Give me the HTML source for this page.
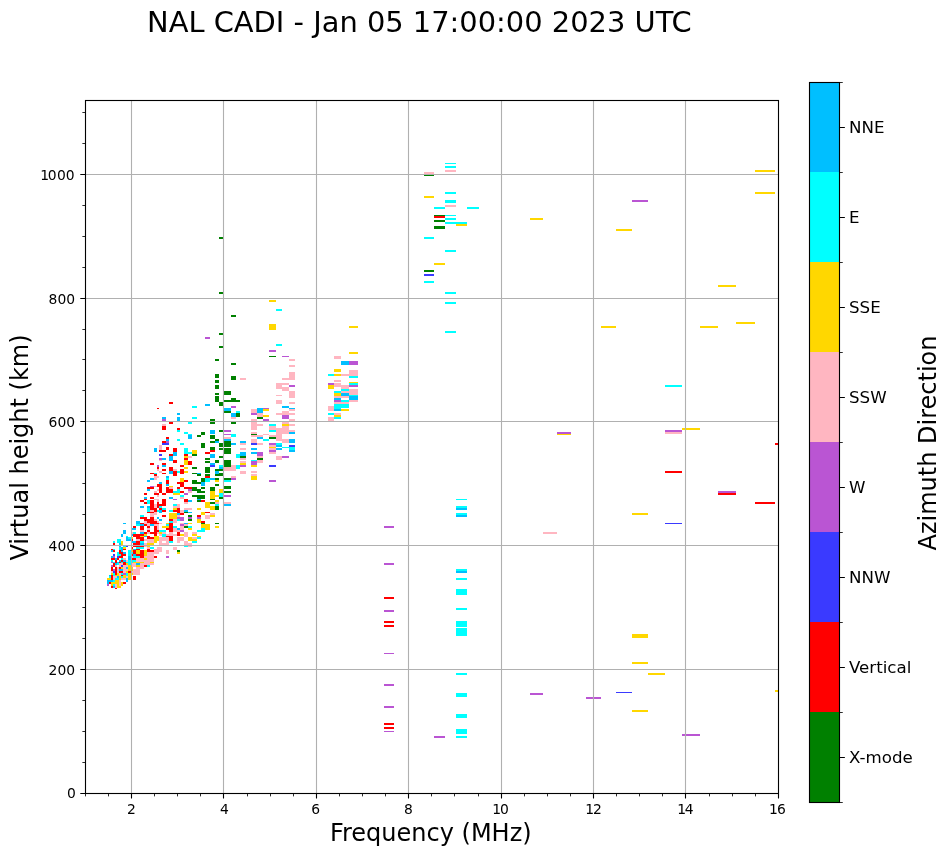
<!DOCTYPE html>
<html lang="en"><head><meta charset="utf-8"><title>NAL CADI - Jan 05 17:00:00 2023 UTC</title>
<style>html,body{margin:0;padding:0;background:#fff}body{width:951px;height:856px;overflow:hidden}svg{display:block}text{font-family:'DejaVu Sans','Liberation Sans',sans-serif;fill:#000}</style></head><body>
<svg width="951" height="856" viewBox="0 0 951 856">
<rect x="0" y="0" width="951" height="856" fill="#fff"/>
<g shape-rendering="crispEdges">
<path fill="#00ffff" d="M445 163h11v1h-11zM445 166h11v2h-11zM445 192h11v2h-11zM445 200h11v3h-11zM434 207h11v2h-11zM467 207h12v2h-12zM445 215h11v1h-11zM445 218h11v2h-11zM445 222h22v2h-22zM424 237h10v2h-10zM445 250h11v2h-11zM424 281h10v2h-10zM445 292h11v2h-11zM445 302h11v2h-11zM445 331h11v2h-11zM456 499h11v1h-11zM456 506h11v2h-11zM456 513h11v2h-11zM456 569h11v2h-11zM456 578h11v2h-11zM456 589h11v6h-11zM456 608h11v2h-11zM456 621h11v6h-11zM456 628h11v8h-11zM456 673h11v2h-11zM456 693h11v4h-11zM456 714h11v4h-11zM456 729h11v5h-11zM456 736h11v2h-11zM665 385h17v2h-17zM276 309h6v2h-6zM276 344h6v2h-6zM328 374h6v2h-6zM349 376h9v2h-9zM349 383h9v2h-9zM341 389h8v2h-8zM334 391h7v2h-7zM349 395h9v1h-9zM341 400h8v2h-8zM334 404h7v2h-7zM341 404h8v2h-8zM192 406h5v2h-5zM334 406h7v2h-7zM341 406h8v2h-8zM334 408h7v1h-7zM236 411h4v2h-4zM328 413h6v2h-6zM192 417h5v2h-5zM334 417h7v2h-7zM188 422h4v2h-4zM269 424h7v2h-7zM177 430h3v2h-3zM269 430h7v2h-7zM184 432h4v2h-4zM188 434h4v1h-4zM231 434h5v1h-5zM231 435h5v2h-5zM177 439h3v2h-3zM263 439h6v2h-6zM180 443h4v2h-4zM276 443h6v2h-6zM282 447h7v1h-7zM289 447h6v1h-6zM184 448h4v2h-4zM289 448h6v2h-6zM184 450h4v2h-4zM184 452h4v2h-4zM188 452h4v2h-4zM236 454h4v2h-4zM236 456h4v2h-4zM251 460h6v1h-6zM219 465h5v2h-5zM236 465h4v2h-4zM236 467h4v2h-4zM177 471h3v2h-3zM154 473h3v1h-3zM166 478h3v2h-3zM205 478h5v2h-5zM205 480h5v2h-5zM224 480h7v2h-7zM177 489h3v2h-3zM173 491h4v2h-4zM177 491h3v2h-3zM219 493h5v2h-5zM180 495h4v2h-4zM219 495h5v2h-5zM147 500h3v2h-3zM147 502h3v2h-3zM173 504h4v2h-4zM215 504h4v2h-4zM159 506h3v2h-3zM147 508h3v2h-3zM162 508h4v2h-4zM147 510h3v2h-3zM157 510h2v2h-2zM169 510h4v2h-4zM140 515h4v2h-4zM177 519h3v2h-3zM169 521h4v2h-4zM136 524h2v2h-2zM138 524h2v2h-2zM166 524h3v2h-3zM173 526h4v2h-4zM188 526h4v2h-4zM201 528h4v2h-4zM159 530h3v2h-3zM162 530h4v2h-4zM197 530h4v2h-4zM201 530h4v2h-4zM133 532h3v2h-3zM162 534h4v2h-4zM126 536h2v1h-2zM162 536h4v1h-4zM128 537h3v2h-3zM197 537h4v2h-4zM117 539h2v2h-2zM119 539h2v2h-2zM113 541h2v2h-2zM117 541h2v2h-2zM119 541h2v2h-2zM140 541h4v2h-4zM169 541h4v2h-4zM192 541h5v2h-5zM123 545h3v2h-3zM184 545h4v2h-4zM119 547h2v2h-2zM136 547h2v2h-2zM138 547h2v2h-2zM140 547h4v2h-4zM150 547h4v2h-4zM113 549h2v1h-2zM119 549h2v1h-2zM128 550h3v2h-3zM117 552h2v2h-2zM128 552h3v2h-3zM131 552h2v2h-2zM117 554h2v2h-2zM119 554h2v2h-2zM128 554h3v2h-3zM133 556h3v2h-3zM136 556h2v2h-2zM138 556h2v2h-2zM121 558h2v2h-2zM111 560h2v2h-2zM128 560h3v2h-3zM131 560h2v2h-2zM133 560h3v2h-3zM113 562h2v1h-2zM121 562h2v1h-2zM126 562h2v1h-2zM128 562h3v1h-3zM131 562h2v1h-2zM117 563h2v2h-2zM128 563h3v2h-3zM147 565h3v2h-3zM113 573h2v2h-2zM121 573h2v2h-2zM126 573h2v2h-2zM113 575h2v1h-2zM126 575h2v1h-2zM109 576h2v2h-2zM121 576h2v2h-2zM115 578h2v2h-2zM117 578h2v2h-2zM113 580h2v2h-2zM113 584h2v2h-2z"/>
<path fill="#ffb6c1" d="M445 170h11v2h-11zM424 172h10v2h-10zM445 205h11v2h-11zM665 432h17v2h-17zM543 532h14v2h-14zM334 356h7v1h-7zM334 357h7v2h-7zM289 359h6v2h-6zM289 365h6v2h-6zM349 370h9v2h-9zM289 372h6v2h-6zM349 372h9v2h-9zM289 374h6v2h-6zM341 374h8v2h-8zM349 374h9v2h-9zM289 376h6v2h-6zM240 378h6v2h-6zM282 378h7v2h-7zM289 378h6v2h-6zM334 380h7v2h-7zM276 383h6v2h-6zM282 383h7v2h-7zM334 383h7v2h-7zM276 385h6v2h-6zM334 385h7v2h-7zM341 385h8v2h-8zM276 387h6v2h-6zM282 387h7v2h-7zM341 387h8v2h-8zM282 389h7v2h-7zM349 389h9v2h-9zM289 391h6v2h-6zM341 391h8v2h-8zM349 391h9v2h-9zM289 393h6v2h-6zM349 393h9v2h-9zM276 395h6v1h-6zM289 395h6v1h-6zM289 396h6v2h-6zM334 396h7v2h-7zM341 396h8v2h-8zM276 400h6v2h-6zM349 400h9v2h-9zM276 402h6v2h-6zM289 402h6v2h-6zM334 402h7v2h-7zM341 402h8v2h-8zM328 406h6v2h-6zM328 408h6v1h-6zM251 409h6v2h-6zM289 409h6v2h-6zM328 409h6v2h-6zM251 411h6v2h-6zM282 411h7v2h-7zM257 413h6v2h-6zM276 413h6v2h-6zM282 413h7v2h-7zM289 413h6v2h-6zM334 413h7v2h-7zM257 415h6v2h-6zM231 417h5v2h-5zM328 417h6v2h-6zM251 419h6v2h-6zM289 419h6v2h-6zM328 419h6v2h-6zM251 422h6v2h-6zM282 422h7v2h-7zM162 424h4v2h-4zM251 424h6v2h-6zM257 424h6v2h-6zM289 424h6v2h-6zM251 426h6v2h-6zM269 426h7v2h-7zM282 426h7v2h-7zM251 428h6v2h-6zM269 428h7v2h-7zM276 428h6v2h-6zM282 428h7v2h-7zM276 430h6v2h-6zM282 430h7v2h-7zM289 430h6v2h-6zM251 432h6v2h-6zM276 432h6v2h-6zM282 432h7v2h-7zM263 434h6v1h-6zM276 434h6v1h-6zM251 435h6v2h-6zM257 435h6v2h-6zM269 435h7v2h-7zM276 435h6v2h-6zM224 437h7v2h-7zM276 437h6v2h-6zM251 439h6v2h-6zM276 439h6v2h-6zM282 439h7v2h-7zM251 441h6v2h-6zM282 441h7v2h-7zM240 443h6v2h-6zM257 443h6v2h-6zM159 445h3v2h-3zM269 445h7v2h-7zM159 447h3v1h-3zM159 448h3v2h-3zM240 448h6v2h-6zM269 448h7v2h-7zM269 452h7v2h-7zM188 456h4v2h-4zM257 456h6v2h-6zM276 456h6v2h-6zM240 458h6v2h-6zM276 458h6v2h-6zM159 460h3v1h-3zM257 460h6v1h-6zM240 461h6v2h-6zM257 461h6v2h-6zM231 465h5v2h-5zM224 467h7v2h-7zM231 467h5v2h-5zM157 469h2v2h-2zM173 469h4v2h-4zM224 469h7v2h-7zM231 469h5v2h-5zM159 471h3v2h-3zM240 471h6v2h-6zM251 471h6v2h-6zM240 473h6v1h-6zM251 474h6v2h-6zM154 476h3v2h-3zM157 476h2v2h-2zM231 476h5v2h-5zM154 478h3v2h-3zM154 486h3v1h-3zM169 487h4v2h-4zM157 489h2v2h-2zM154 491h3v2h-3zM188 491h4v2h-4zM157 495h2v2h-2zM180 497h4v2h-4zM154 499h3v1h-3zM157 499h2v1h-2zM157 500h2v2h-2zM184 502h4v2h-4zM215 502h4v2h-4zM224 502h7v2h-7zM154 504h3v2h-3zM177 504h3v2h-3zM154 506h3v2h-3zM173 506h4v2h-4zM177 506h3v2h-3zM184 508h4v2h-4zM188 508h4v2h-4zM150 510h4v2h-4zM180 510h4v2h-4zM154 512h3v1h-3zM180 512h4v1h-4zM150 513h4v2h-4zM154 513h3v2h-3zM210 513h5v2h-5zM150 515h4v2h-4zM177 515h3v2h-3zM205 515h5v2h-5zM205 517h5v2h-5zM154 519h3v2h-3zM173 519h4v2h-4zM144 521h3v2h-3zM157 521h2v2h-2zM173 521h4v2h-4zM144 523h3v1h-3zM147 523h3v1h-3zM159 523h3v1h-3zM180 523h4v1h-4zM147 524h3v2h-3zM154 524h3v2h-3zM157 524h2v2h-2zM184 524h4v2h-4zM157 526h2v2h-2zM180 526h4v2h-4zM147 528h3v2h-3zM157 528h2v2h-2zM173 528h4v2h-4zM180 528h4v2h-4zM140 530h4v2h-4zM173 530h4v2h-4zM177 530h3v2h-3zM131 532h2v2h-2zM147 532h3v2h-3zM157 532h2v2h-2zM162 532h4v2h-4zM169 532h4v2h-4zM184 532h4v2h-4zM192 532h5v2h-5zM159 534h3v2h-3zM166 534h3v2h-3zM169 534h4v2h-4zM173 534h4v2h-4zM184 534h4v2h-4zM184 536h4v1h-4zM159 537h3v2h-3zM162 537h4v2h-4zM166 537h3v2h-3zM177 537h3v2h-3zM180 537h4v2h-4zM192 537h5v2h-5zM136 539h2v2h-2zM138 539h2v2h-2zM144 539h3v2h-3zM147 539h3v2h-3zM150 539h4v2h-4zM159 539h3v2h-3zM162 539h4v2h-4zM166 539h3v2h-3zM177 539h3v2h-3zM180 539h4v2h-4zM147 541h3v2h-3zM150 541h4v2h-4zM159 541h3v2h-3zM166 541h3v2h-3zM177 541h3v2h-3zM184 541h4v2h-4zM144 543h3v2h-3zM159 543h3v2h-3zM162 543h4v2h-4zM166 543h3v2h-3zM184 543h4v2h-4zM188 543h4v2h-4zM144 545h3v2h-3zM188 545h4v2h-4zM147 547h3v2h-3zM157 547h2v2h-2zM159 547h3v2h-3zM173 547h4v2h-4zM154 549h3v1h-3zM157 549h2v1h-2zM159 549h3v1h-3zM173 549h4v1h-4zM154 550h3v2h-3zM157 550h2v2h-2zM159 550h3v2h-3zM166 550h3v2h-3zM147 552h3v2h-3zM150 552h4v2h-4zM154 552h3v2h-3zM157 552h2v2h-2zM166 552h3v2h-3zM147 554h3v2h-3zM150 554h4v2h-4zM131 556h2v2h-2zM144 556h3v2h-3zM147 556h3v2h-3zM150 556h4v2h-4zM123 558h3v2h-3zM136 558h2v2h-2zM138 558h2v2h-2zM140 558h4v2h-4zM147 558h3v2h-3zM150 558h4v2h-4zM126 560h2v2h-2zM136 560h2v2h-2zM138 560h2v2h-2zM140 560h4v2h-4zM144 560h3v2h-3zM147 560h3v2h-3zM150 560h4v2h-4zM144 562h3v1h-3zM147 562h3v1h-3zM119 563h2v2h-2zM121 563h2v2h-2zM131 563h2v2h-2zM133 563h3v2h-3zM140 563h4v2h-4zM144 563h3v2h-3zM147 563h3v2h-3zM150 563h4v2h-4zM115 565h2v2h-2zM119 565h2v2h-2zM123 565h3v2h-3zM126 565h2v2h-2zM131 565h2v2h-2zM133 565h3v2h-3zM140 565h4v2h-4zM117 567h2v2h-2zM123 567h3v2h-3zM136 567h2v2h-2zM138 567h2v2h-2zM140 567h4v2h-4zM117 569h2v2h-2zM123 569h3v2h-3zM126 569h2v2h-2zM133 569h3v2h-3zM136 569h2v2h-2zM138 569h2v2h-2zM111 571h2v2h-2zM117 571h2v2h-2zM123 571h3v2h-3zM131 571h2v2h-2zM133 571h3v2h-3zM136 571h2v2h-2zM138 571h2v2h-2zM119 573h2v2h-2zM133 573h3v2h-3zM136 573h2v2h-2zM138 573h2v2h-2zM119 575h2v1h-2zM113 576h2v2h-2zM115 576h2v2h-2zM126 576h2v2h-2zM113 578h2v2h-2zM121 578h2v2h-2zM123 578h3v2h-3zM119 580h2v2h-2zM119 582h2v2h-2zM115 584h2v2h-2zM119 584h2v2h-2zM115 586h2v2h-2z"/>
<path fill="#008000" d="M424 174h10v2h-10zM434 215h11v1h-11zM434 220h11v2h-11zM434 226h11v3h-11zM424 270h10v2h-10zM219 237h5v2h-5zM219 292h5v2h-5zM231 315h5v2h-5zM219 333h5v2h-5zM219 346h5v2h-5zM269 356h7v1h-7zM215 359h4v2h-4zM231 363h5v2h-5zM215 374h4v2h-4zM215 376h4v2h-4zM231 376h5v2h-5zM231 378h5v2h-5zM215 380h4v2h-4zM215 382h4v1h-4zM215 385h4v2h-4zM215 387h4v2h-4zM224 391h7v2h-7zM215 393h4v2h-4zM224 393h7v2h-7zM215 396h4v2h-4zM215 398h4v2h-4zM231 398h5v2h-5zM215 400h4v2h-4zM224 400h7v2h-7zM231 400h5v2h-5zM236 400h4v2h-4zM219 402h5v2h-5zM219 404h5v2h-5zM224 411h7v2h-7zM236 413h4v2h-4zM236 415h4v2h-4zM257 417h6v2h-6zM210 419h5v2h-5zM210 422h5v2h-5zM231 422h5v2h-5zM219 430h5v2h-5zM201 432h4v2h-4zM201 434h4v1h-4zM251 434h6v1h-6zM197 435h4v2h-4zM210 435h5v2h-5zM210 437h5v2h-5zM269 437h7v2h-7zM215 439h4v2h-4zM210 441h5v2h-5zM224 441h7v2h-7zM201 443h4v2h-4zM219 443h5v2h-5zM224 443h7v2h-7zM201 445h4v2h-4zM219 445h5v2h-5zM224 445h7v2h-7zM201 447h4v1h-4zM210 447h5v1h-5zM210 448h5v2h-5zM219 448h5v2h-5zM224 448h7v2h-7zM224 450h7v2h-7zM224 452h7v2h-7zM192 454h5v2h-5zM219 456h5v2h-5zM240 456h6v2h-6zM205 458h5v2h-5zM257 458h6v2h-6zM215 460h4v1h-4zM224 460h7v1h-7zM205 461h5v2h-5zM215 461h4v2h-4zM224 461h7v2h-7zM224 463h7v2h-7zM224 465h7v2h-7zM192 467h5v2h-5zM205 467h5v2h-5zM205 469h5v2h-5zM215 469h4v2h-4zM219 469h5v2h-5zM205 471h5v2h-5zM192 473h5v1h-5zM219 473h5v1h-5zM197 474h4v2h-4zM205 474h5v2h-5zM215 474h4v2h-4zM219 474h5v2h-5zM201 478h4v2h-4zM215 478h4v2h-4zM224 478h7v2h-7zM192 480h5v2h-5zM201 480h4v2h-4zM192 482h5v2h-5zM197 482h4v2h-4zM215 484h4v2h-4zM224 486h7v1h-7zM192 487h5v2h-5zM201 487h4v2h-4zM210 487h5v2h-5zM224 487h7v2h-7zM192 489h5v2h-5zM197 489h4v2h-4zM210 489h5v2h-5zM197 491h4v2h-4zM201 491h4v2h-4zM224 491h7v2h-7zM192 495h5v2h-5zM197 495h4v2h-4zM201 495h4v2h-4zM197 497h4v2h-4zM201 497h4v2h-4zM219 497h5v2h-5zM210 499h5v1h-5zM197 500h4v2h-4zM210 502h5v2h-5zM215 506h4v2h-4zM215 508h4v2h-4zM184 512h4v1h-4zM188 515h4v2h-4zM188 519h4v2h-4zM201 523h4v1h-4zM215 523h4v1h-4zM184 526h4v2h-4zM177 550h3v2h-3z"/>
<path fill="#ffd700" d="M424 196h10v2h-10zM456 224h11v2h-11zM434 263h11v2h-11zM530 218h13v2h-13zM616 229h16v2h-16zM755 170h20v2h-20zM755 192h20v2h-20zM601 326h15v2h-15zM700 326h18v2h-18zM718 285h18v2h-18zM736 322h19v2h-19zM557 434h14v1h-14zM632 513h16v2h-16zM682 428h18v2h-18zM632 634h16v4h-16zM632 662h16v2h-16zM648 673h17v2h-17zM632 710h16v2h-16zM775 690h3v2h-3zM269 300h7v2h-7zM269 324h7v2h-7zM269 326h7v2h-7zM349 326h9v2h-9zM269 328h7v2h-7zM349 352h9v2h-9zM334 369h7v1h-7zM334 370h7v2h-7zM334 374h7v2h-7zM349 382h9v1h-9zM328 385h6v2h-6zM328 387h6v2h-6zM334 393h7v2h-7zM334 395h7v1h-7zM263 409h6v2h-6zM341 409h8v2h-8zM263 415h6v2h-6zM334 415h7v2h-7zM282 424h7v2h-7zM269 447h7v1h-7zM192 450h5v2h-5zM192 452h5v2h-5zM184 456h4v2h-4zM184 460h4v1h-4zM184 461h4v2h-4zM184 463h4v2h-4zM240 463h6v2h-6zM251 465h6v2h-6zM184 467h4v2h-4zM184 471h4v2h-4zM251 476h6v2h-6zM180 478h4v2h-4zM251 478h6v2h-6zM180 480h4v2h-4zM215 480h4v2h-4zM169 486h4v1h-4zM219 489h5v2h-5zM210 491h5v2h-5zM219 491h5v2h-5zM173 493h4v2h-4zM177 493h3v2h-3zM210 493h5v2h-5zM210 495h5v2h-5zM215 495h4v2h-4zM210 497h5v2h-5zM215 500h4v2h-4zM205 502h5v2h-5zM205 504h5v2h-5zM205 506h5v2h-5zM210 506h5v2h-5zM173 508h4v2h-4zM197 508h4v2h-4zM210 508h5v2h-5zM201 512h4v1h-4zM169 513h4v2h-4zM173 513h4v2h-4zM201 513h4v2h-4zM169 515h4v2h-4zM173 515h4v2h-4zM210 515h5v2h-5zM169 517h4v2h-4zM173 517h4v2h-4zM197 519h4v2h-4zM197 521h4v2h-4zM166 523h3v1h-3zM188 523h4v1h-4zM201 524h4v2h-4zM205 524h5v2h-5zM162 526h4v2h-4zM166 526h3v2h-3zM201 526h4v2h-4zM205 526h5v2h-5zM215 526h4v2h-4zM188 528h4v2h-4zM205 528h5v2h-5zM159 532h3v2h-3zM144 534h3v2h-3zM180 534h4v2h-4zM192 534h5v2h-5zM140 536h4v1h-4zM154 536h3v1h-3zM157 536h2v1h-2zM197 536h4v1h-4zM131 537h2v2h-2zM154 537h3v2h-3zM157 537h2v2h-2zM188 537h4v2h-4zM154 539h3v2h-3zM157 539h2v2h-2zM188 539h4v2h-4zM192 539h5v2h-5zM121 541h2v2h-2zM154 541h3v2h-3zM121 543h2v2h-2zM147 543h3v2h-3zM150 543h4v2h-4zM147 545h3v2h-3zM123 547h3v2h-3zM131 549h2v1h-2zM131 550h2v2h-2zM136 550h2v2h-2zM138 550h2v2h-2zM144 550h3v2h-3zM136 552h2v2h-2zM138 552h2v2h-2zM144 552h3v2h-3zM177 552h3v2h-3zM144 554h3v2h-3zM144 558h3v2h-3zM133 562h3v1h-3zM136 562h2v1h-2zM138 562h2v1h-2zM140 562h4v1h-4zM150 562h4v1h-4zM126 563h2v2h-2zM128 565h3v2h-3zM136 565h2v2h-2zM138 565h2v2h-2zM121 567h2v2h-2zM128 567h3v2h-3zM131 567h2v2h-2zM128 569h3v2h-3zM131 569h2v2h-2zM126 571h2v2h-2zM111 573h2v2h-2zM117 573h2v2h-2zM128 573h3v2h-3zM131 573h2v2h-2zM115 575h2v1h-2zM117 575h2v1h-2zM123 575h3v1h-3zM128 575h3v1h-3zM119 576h2v2h-2zM123 576h3v2h-3zM128 576h3v2h-3zM107 578h2v2h-2zM109 578h2v2h-2zM119 578h2v2h-2zM128 578h3v2h-3zM115 580h2v2h-2zM117 580h2v2h-2zM111 582h2v2h-2zM113 582h2v2h-2zM115 582h2v2h-2zM117 582h2v2h-2zM121 582h2v2h-2zM111 584h2v2h-2zM117 584h2v2h-2zM121 584h2v2h-2zM117 586h2v2h-2zM119 586h2v2h-2z"/>
<path fill="#ff0000" d="M434 216h11v2h-11zM384 597h10v2h-10zM384 621h10v2h-10zM384 625h10v2h-10zM384 723h10v2h-10zM384 727h10v2h-10zM775 443h3v2h-3zM665 471h17v2h-17zM718 493h18v2h-18zM755 502h20v2h-20zM169 402h4v2h-4zM157 408h2v1h-2zM169 422h4v2h-4zM162 426h4v2h-4zM162 428h4v2h-4zM177 428h3v2h-3zM166 437h3v2h-3zM162 441h4v2h-4zM166 447h3v1h-3zM166 448h3v2h-3zM173 448h4v2h-4zM159 450h3v2h-3zM162 450h4v2h-4zM173 450h4v2h-4zM210 450h5v2h-5zM205 452h5v2h-5zM169 454h4v2h-4zM184 454h4v2h-4zM184 458h4v2h-4zM173 460h4v1h-4zM173 461h4v2h-4zM188 461h4v2h-4zM150 463h4v2h-4zM162 463h4v2h-4zM188 463h4v2h-4zM180 465h4v2h-4zM157 467h2v2h-2zM169 467h4v2h-4zM162 469h4v2h-4zM169 469h4v2h-4zM180 469h4v2h-4zM173 471h4v2h-4zM180 471h4v2h-4zM150 473h4v1h-4zM162 473h4v1h-4zM173 473h4v1h-4zM180 473h4v1h-4zM154 474h3v2h-3zM173 474h4v2h-4zM205 476h5v2h-5zM166 480h3v2h-3zM184 480h4v2h-4zM166 482h3v2h-3zM177 482h3v2h-3zM180 482h4v2h-4zM157 484h2v2h-2zM159 484h3v2h-3zM180 484h4v2h-4zM157 486h2v1h-2zM159 486h3v1h-3zM180 486h4v1h-4zM147 487h3v2h-3zM150 487h4v2h-4zM159 487h3v2h-3zM166 487h3v2h-3zM177 487h3v2h-3zM184 487h4v2h-4zM188 487h4v2h-4zM159 489h3v2h-3zM166 489h3v2h-3zM169 489h4v2h-4zM159 491h3v2h-3zM166 491h3v2h-3zM169 491h4v2h-4zM180 491h4v2h-4zM144 493h3v2h-3zM154 493h3v2h-3zM157 493h2v2h-2zM162 493h4v2h-4zM150 497h4v2h-4zM144 499h3v1h-3zM162 499h4v1h-4zM184 499h4v1h-4zM140 500h4v2h-4zM150 500h4v2h-4zM162 500h4v2h-4zM184 500h4v2h-4zM201 500h4v2h-4zM144 502h3v2h-3zM150 502h4v2h-4zM157 502h2v2h-2zM162 502h4v2h-4zM150 504h4v2h-4zM157 504h2v2h-2zM159 504h3v2h-3zM162 504h4v2h-4zM150 506h4v2h-4zM157 506h2v2h-2zM150 508h4v2h-4zM154 508h3v2h-3zM159 508h3v2h-3zM177 508h3v2h-3zM154 510h3v2h-3zM162 510h4v2h-4zM173 510h4v2h-4zM177 510h3v2h-3zM147 512h3v1h-3zM150 512h4v1h-4zM177 512h3v1h-3zM205 512h5v1h-5zM180 513h4v2h-4zM162 515h4v2h-4zM197 515h4v2h-4zM140 517h4v2h-4zM144 517h3v2h-3zM150 517h4v2h-4zM144 519h3v2h-3zM147 519h3v2h-3zM150 519h4v2h-4zM169 519h4v2h-4zM147 521h3v2h-3zM150 521h4v2h-4zM154 521h3v2h-3zM201 521h4v2h-4zM140 523h4v1h-4zM150 523h4v1h-4zM154 523h3v1h-3zM157 523h2v1h-2zM169 523h4v1h-4zM144 524h3v2h-3zM169 524h4v2h-4zM133 526h3v2h-3zM140 526h4v2h-4zM147 526h3v2h-3zM154 526h3v2h-3zM169 526h4v2h-4zM140 528h4v2h-4zM154 528h3v2h-3zM166 528h3v2h-3zM169 528h4v2h-4zM147 530h3v2h-3zM154 530h3v2h-3zM157 530h2v2h-2zM169 530h4v2h-4zM144 532h3v2h-3zM150 532h4v2h-4zM154 532h3v2h-3zM177 532h3v2h-3zM133 534h3v2h-3zM136 534h2v2h-2zM138 534h2v2h-2zM140 534h4v2h-4zM154 534h3v2h-3zM177 534h3v2h-3zM133 536h3v1h-3zM136 536h2v1h-2zM138 536h2v1h-2zM147 536h3v1h-3zM166 536h3v1h-3zM169 536h4v1h-4zM136 537h2v2h-2zM138 537h2v2h-2zM140 537h4v2h-4zM147 537h3v2h-3zM150 537h4v2h-4zM169 537h4v2h-4zM131 539h2v2h-2zM140 539h4v2h-4zM169 539h4v2h-4zM136 541h2v2h-2zM138 541h2v2h-2zM113 543h2v2h-2zM133 543h3v2h-3zM136 543h2v2h-2zM138 543h2v2h-2zM133 545h3v2h-3zM136 545h2v2h-2zM138 545h2v2h-2zM140 545h4v2h-4zM131 547h2v2h-2zM111 549h2v1h-2zM123 549h3v1h-3zM136 549h2v1h-2zM138 549h2v1h-2zM147 549h3v1h-3zM113 550h2v2h-2zM119 550h2v2h-2zM133 550h3v2h-3zM140 550h4v2h-4zM147 550h3v2h-3zM150 550h4v2h-4zM119 552h2v2h-2zM121 552h2v2h-2zM133 552h3v2h-3zM140 552h4v2h-4zM121 554h2v2h-2zM123 554h3v2h-3zM131 554h2v2h-2zM136 554h2v2h-2zM138 554h2v2h-2zM140 554h4v2h-4zM119 556h2v2h-2zM121 556h2v2h-2zM140 556h4v2h-4zM154 556h3v2h-3zM111 558h2v2h-2zM113 558h2v2h-2zM117 558h2v2h-2zM131 558h2v2h-2zM133 558h3v2h-3zM115 560h2v2h-2zM121 560h2v2h-2zM115 562h2v1h-2zM119 562h2v1h-2zM123 562h3v1h-3zM113 563h2v2h-2zM123 563h3v2h-3zM113 565h2v2h-2zM144 565h3v2h-3zM111 567h2v2h-2zM115 567h2v2h-2zM119 567h2v2h-2zM111 569h2v2h-2zM115 569h2v2h-2zM115 571h2v2h-2zM119 571h2v2h-2zM121 571h2v2h-2zM128 571h3v2h-3zM115 573h2v2h-2zM111 575h2v1h-2zM121 575h2v1h-2zM111 576h2v2h-2zM133 576h3v2h-3zM111 578h2v2h-2zM133 578h3v2h-3zM109 582h2v2h-2zM123 582h3v2h-3zM111 586h2v2h-2zM115 588h2v1h-2z"/>
<path fill="#3a3aff" d="M424 274h10v2h-10zM665 523h17v1h-17zM616 692h16v1h-16zM162 443h4v2h-4zM166 443h3v2h-3zM251 443h6v2h-6zM289 445h6v2h-6zM159 454h3v2h-3zM210 465h5v2h-5zM269 465h7v2h-7zM126 545h2v2h-2zM113 554h2v2h-2zM117 556h2v2h-2zM121 565h2v2h-2zM113 571h2v2h-2z"/>
<path fill="#00bfff" d="M456 508h11v2h-11zM456 515h11v2h-11zM456 571h11v2h-11zM341 361h8v2h-8zM341 363h8v2h-8zM341 393h8v2h-8zM341 395h8v1h-8zM349 396h9v2h-9zM334 398h7v2h-7zM349 398h9v2h-9zM205 404h5v2h-5zM282 406h7v2h-7zM224 408h7v1h-7zM257 408h6v1h-6zM289 408h6v1h-6zM224 409h7v2h-7zM257 409h6v2h-6zM334 409h7v2h-7zM257 411h6v2h-6zM177 413h3v2h-3zM231 413h5v2h-5zM231 415h5v2h-5zM162 417h4v2h-4zM177 417h3v2h-3zM177 419h3v2h-3zM210 430h5v2h-5zM210 432h5v2h-5zM289 432h6v2h-6zM188 435h4v2h-4zM188 437h4v2h-4zM257 437h6v2h-6zM166 439h3v2h-3zM224 439h7v2h-7zM289 439h6v2h-6zM215 441h4v2h-4zM240 441h6v2h-6zM289 441h6v2h-6zM231 443h5v2h-5zM276 445h6v2h-6zM154 448h3v2h-3zM251 448h6v2h-6zM276 448h6v2h-6zM154 450h3v2h-3zM289 450h6v2h-6zM173 452h4v2h-4zM240 452h6v2h-6zM251 452h6v2h-6zM173 454h4v2h-4zM210 454h5v2h-5zM240 454h6v2h-6zM169 456h4v2h-4zM210 456h5v2h-5zM162 458h4v2h-4zM169 458h4v2h-4zM169 460h4v1h-4zM210 463h5v2h-5zM162 465h4v2h-4zM219 467h5v2h-5zM169 471h4v2h-4zM215 471h4v2h-4zM169 473h4v1h-4zM197 473h4v1h-4zM215 473h4v1h-4zM166 476h3v2h-3zM150 478h4v2h-4zM210 478h5v2h-5zM147 480h3v2h-3zM159 482h3v2h-3zM201 482h4v2h-4zM166 484h3v2h-3zM201 484h4v2h-4zM147 489h3v2h-3zM144 497h3v2h-3zM169 497h4v2h-4zM197 499h4v1h-4zM188 500h4v2h-4zM224 504h7v2h-7zM140 506h4v2h-4zM147 506h3v2h-3zM159 510h3v2h-3zM184 510h4v2h-4zM159 512h3v1h-3zM188 512h4v1h-4zM177 513h3v2h-3zM157 517h2v2h-2zM159 519h3v2h-3zM136 521h2v2h-2zM138 521h2v2h-2zM123 523h3v1h-3zM136 523h2v1h-2zM138 523h2v1h-2zM184 523h4v1h-4zM140 524h4v2h-4zM150 524h4v2h-4zM131 528h2v2h-2zM133 528h3v2h-3zM177 528h3v2h-3zM123 530h3v2h-3zM123 532h3v2h-3zM140 532h4v2h-4zM121 534h2v2h-2zM131 534h2v2h-2zM121 536h2v1h-2zM144 536h3v1h-3zM126 537h2v2h-2zM126 539h2v2h-2zM128 539h3v2h-3zM131 541h2v2h-2zM133 541h3v2h-3zM119 543h2v2h-2zM140 543h4v2h-4zM119 545h2v2h-2zM121 547h2v2h-2zM121 549h2v1h-2zM133 549h3v1h-3zM111 550h2v2h-2zM121 550h2v2h-2zM123 552h3v2h-3zM133 554h3v2h-3zM111 556h2v2h-2zM128 556h3v2h-3zM115 558h2v2h-2zM128 558h3v2h-3zM119 560h2v2h-2zM123 560h3v2h-3zM117 562h2v1h-2zM115 563h2v2h-2zM136 563h2v2h-2zM138 563h2v2h-2zM126 567h2v2h-2zM119 569h2v2h-2zM121 569h2v2h-2zM109 575h2v1h-2zM117 576h2v2h-2zM126 578h2v2h-2zM107 580h2v2h-2zM109 580h2v2h-2zM111 580h2v2h-2zM126 580h2v2h-2zM107 582h2v2h-2zM113 586h2v2h-2z"/>
<path fill="#ba55d3" d="M384 526h10v2h-10zM384 563h10v2h-10zM384 610h10v2h-10zM384 653h10v1h-10zM384 684h10v2h-10zM384 706h10v2h-10zM384 731h10v1h-10zM434 736h11v2h-11zM632 200h16v2h-16zM557 432h14v2h-14zM665 430h17v2h-17zM718 491h18v2h-18zM530 693h13v2h-13zM586 697h15v2h-15zM682 734h18v2h-18zM205 337h5v2h-5zM269 350h7v2h-7zM282 356h7v1h-7zM349 361h9v2h-9zM349 363h9v2h-9zM328 383h6v2h-6zM289 385h6v2h-6zM349 385h9v2h-9zM334 400h7v2h-7zM231 406h5v2h-5zM263 408h6v1h-6zM251 413h6v2h-6zM282 415h7v2h-7zM282 417h7v2h-7zM162 419h4v2h-4zM263 419h6v2h-6zM224 430h7v2h-7zM224 434h7v1h-7zM166 441h3v2h-3zM269 443h7v2h-7zM269 450h7v2h-7zM257 452h6v2h-6zM257 454h6v2h-6zM282 456h7v2h-7zM159 458h3v2h-3zM251 461h6v2h-6zM251 463h6v2h-6zM157 465h2v2h-2zM240 465h6v2h-6zM231 478h5v2h-5zM269 480h7v2h-7zM150 486h4v1h-4zM188 489h4v2h-4zM184 493h4v2h-4zM224 495h7v2h-7zM173 499h4v1h-4zM177 517h3v2h-3zM180 517h4v2h-4zM188 517h4v2h-4zM197 517h4v2h-4zM180 519h4v2h-4zM180 524h4v2h-4zM180 530h4v2h-4zM113 556h2v2h-2zM166 556h3v2h-3zM111 562h2v1h-2zM111 565h2v2h-2zM113 569h2v2h-2zM123 573h3v2h-3zM107 584h2v2h-2z"/>
</g>
<g stroke="#b0b0b0" stroke-width="1.11" fill="none">
<line x1="131.5" y1="100.5" x2="131.5" y2="793.5"/>
<line x1="223.5" y1="100.5" x2="223.5" y2="793.5"/>
<line x1="316.5" y1="100.5" x2="316.5" y2="793.5"/>
<line x1="408.5" y1="100.5" x2="408.5" y2="793.5"/>
<line x1="501.5" y1="100.5" x2="501.5" y2="793.5"/>
<line x1="593.5" y1="100.5" x2="593.5" y2="793.5"/>
<line x1="685.5" y1="100.5" x2="685.5" y2="793.5"/>
<line x1="85.5" y1="669.5" x2="778.5" y2="669.5"/>
<line x1="85.5" y1="545.5" x2="778.5" y2="545.5"/>
<line x1="85.5" y1="421.5" x2="778.5" y2="421.5"/>
<line x1="85.5" y1="298.5" x2="778.5" y2="298.5"/>
<line x1="85.5" y1="174.5" x2="778.5" y2="174.5"/>
</g>
<g stroke="#000" fill="none">
<path stroke-width="1.11" d="M131.5 793.6v4.86M223.5 793.6v4.86M316.5 793.6v4.86M408.5 793.6v4.86M501.5 793.6v4.86M593.5 793.6v4.86M685.5 793.6v4.86M778.5 793.6v4.86M85.15 793.5h-4.86M85.15 669.5h-4.86M85.15 545.5h-4.86M85.15 421.5h-4.86M85.15 298.5h-4.86M85.15 174.5h-4.86"/>
<path stroke-width="0.83" d="M85.5 793.6v2.78M108.5 793.6v2.78M154.5 793.6v2.78M177.5 793.6v2.78M200.5 793.6v2.78M247.5 793.6v2.78M270.5 793.6v2.78M293.5 793.6v2.78M339.5 793.6v2.78M362.5 793.6v2.78M385.5 793.6v2.78M431.5 793.6v2.78M454.5 793.6v2.78M478.5 793.6v2.78M524.5 793.6v2.78M547.5 793.6v2.78M570.5 793.6v2.78M616.5 793.6v2.78M639.5 793.6v2.78M662.5 793.6v2.78M709.5 793.6v2.78M732.5 793.6v2.78M755.5 793.6v2.78M85.15 762.5h-2.78M85.15 731.5h-2.78M85.15 700.5h-2.78M85.15 638.5h-2.78M85.15 607.5h-2.78M85.15 576.5h-2.78M85.15 514.5h-2.78M85.15 483.5h-2.78M85.15 452.5h-2.78M85.15 390.5h-2.78M85.15 359.5h-2.78M85.15 329.5h-2.78M85.15 267.5h-2.78M85.15 236.5h-2.78M85.15 205.5h-2.78M85.15 143.5h-2.78M85.15 112.5h-2.78"/>
<rect x="85.5" y="100.5" width="693" height="693" stroke-width="1.11" stroke-linejoin="miter"/>
</g>
<g font-size="13.89px">
<text x="127.08" y="814.2">2</text>
<text x="220.03" y="814.2">4</text>
<text x="311.13" y="814.2">6</text>
<text x="404.08" y="814.2">8</text>
<text x="492.21 499.95" y="814.2">10</text>
<text x="585.16 592.95" y="814.2">12</text>
<text x="677.21 684.80" y="814.2">14</text>
<text x="769.11 776.90" y="814.2">16</text>
<text x="67.06" y="797.8">0</text>
<text x="48.59 57.43 66.26" y="674.8">200</text>
<text x="48.59 57.43 66.26" y="550.8">400</text>
<text x="48.59 57.43 66.26" y="426.8">600</text>
<text x="48.59 57.43 66.26" y="303.8">800</text>
<text x="40.22 47.74 56.96 65.79" y="179.8">1000</text>
</g>
<text x="430.8" y="840.6" font-size="24px" text-anchor="middle">Frequency (MHz)</text>
<text transform="translate(28.4 447.5) rotate(-90)" font-size="24px" text-anchor="middle">Virtual height (km)</text>
<text x="419.4" y="32.3" font-size="28.9px" text-anchor="middle">NAL CADI - Jan 05 17:00:00 2023 UTC</text>
<g shape-rendering="crispEdges">
<rect x="809" y="82" width="31" height="90" fill="#00bfff"/>
<rect x="809" y="172" width="31" height="90" fill="#00ffff"/>
<rect x="809" y="262" width="31" height="90" fill="#ffd700"/>
<rect x="809" y="352" width="31" height="90" fill="#ffb6c1"/>
<rect x="809" y="442" width="31" height="90" fill="#ba55d3"/>
<rect x="809" y="532" width="31" height="90" fill="#3a3aff"/>
<rect x="809" y="622" width="31" height="90" fill="#ff0000"/>
<rect x="809" y="712" width="31" height="90" fill="#008000"/>
</g>
<g stroke="#000" fill="none">
<path stroke-width="1.11" d="M840 127.5h4.86M840 217.5h4.86M840 307.5h4.86M840 397.5h4.86M840 487.5h4.86M840 577.5h4.86M840 667.5h4.86M840 757.5h4.86"/>
<path stroke-width="0.83" d="M840 82.5h2.78M840 172.5h2.78M840 262.5h2.78M840 352.5h2.78M840 442.5h2.78M840 532.5h2.78M840 622.5h2.78M840 712.5h2.78M840 802.5h2.78"/>
<rect x="809.5" y="82.5" width="30" height="720" stroke-width="1.11"/>
</g>
<g font-size="16.67px">
<text x="849" y="132.8">NNE</text>
<text x="849" y="222.8">E</text>
<text x="849" y="312.8">SSE</text>
<text x="849" y="402.8">SSW</text>
<text x="849" y="492.8">W</text>
<text x="849" y="582.8">NNW</text>
<text x="849" y="672.8">Vertical</text>
<text x="849" y="762.8">X-mode</text>
</g>
<text transform="translate(936 443) rotate(-90)" font-size="24px" text-anchor="middle">Azimuth Direction</text>
</svg></body></html>
